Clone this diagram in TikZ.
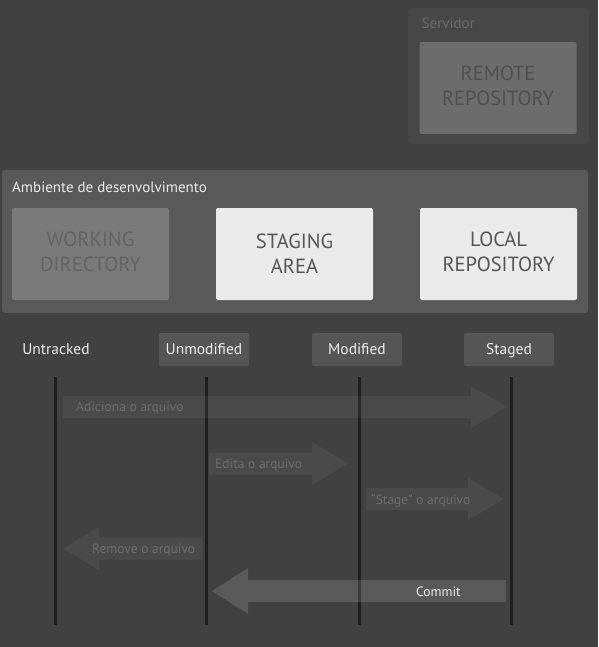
\documentclass[tikz,border=0pt]{standalone}
\usepackage{fontspec}
\setmainfont{PT Sans}
\usetikzlibrary{calc}
\definecolor{fundo}{HTML}{414141}
\definecolor{servfill}{HTML}{474747}
\definecolor{servtexto}{HTML}{6B6B6B}
\definecolor{remfill}{HTML}{6C6C6C}
\definecolor{remtexto}{HTML}{4F4F4F}
\definecolor{ambfill}{HTML}{595959}
\definecolor{ambtexto}{HTML}{ECECEC}
\definecolor{wdfill}{HTML}{7A7A7A}
\definecolor{wdtexto}{HTML}{636363}
\definecolor{clarofill}{HTML}{EBEBEB}
\definecolor{clarotexto}{HTML}{555555}
\definecolor{estfill}{HTML}{555555}
\definecolor{esttexto}{HTML}{EEEEEE}
\definecolor{linha}{HTML}{1E1E1E}
\definecolor{rottexto}{HTML}{6C6C6C}
% seta larga: [estilo]{cauda}{ponta}{meia altura da cabeca}
\newcommand{\seta}[4][]{%
  \fill[setafill,#1] let \p1=(#2), \p2=(#3), \p3=($(#3)!36pt!(#2)$) in
    (\x1,\y1+11pt) -- (\x3,\y1+11pt) -- (\x3,\y1+#4pt) -- (\x2,\y2)
    -- (\x3,\y1-#4pt) -- (\x3,\y1-11pt) -- (\x1,\y1-11pt) -- cycle;}
\tikzset{
  caixa/.style={rounded corners=2pt, minimum width=157pt, minimum height=92pt,
    inner sep=0pt, align=center, font=\fontsize{20.5}{25}\selectfont},
  alta/.style={text depth=5pt},
  estado/.style={rounded corners=2pt, minimum width=90pt, minimum height=33pt,
    inner sep=0pt, text height=11.6pt, text depth=2pt, text=esttexto,
    font=\fontsize{15.5}{18}\selectfont},
  titulo/.style={anchor=base west, inner sep=0pt, font=\fontsize{15}{18}\selectfont},
  rotulo/.style={anchor=base west, inner sep=0pt, text=rottexto,
    font=\fontsize{13.5}{16}\selectfont},
  vida/.style={draw=linha, line width=3pt},
  setafill/.style={fill=white, fill opacity=0.05},
}
\begin{document}
\begin{tikzpicture}[x=1pt, y=-1pt]
  \fill[fundo] (0,0) rectangle (598,647);
  \useasboundingbox (0,0) rectangle (598,647);
  % servidor
  \fill[servfill, rounded corners=4pt] (408,8) rectangle (589,144);
  \node[titulo, text=servtexto] (servidor) at (421.5,28.5) {Servidor};
  \node[caixa, alta, fill=remfill, text=remtexto] (remote) at (498,88) {REMOTE\\REPOSITORY};
  % ambiente de desenvolvimento
  \fill[ambfill, rounded corners=3pt] (2,170) rectangle (588,313);
  \node[titulo, text=ambtexto] (ambiente) at (12,192) {Ambiente de desenvolvimento};
  \node[caixa, alta, fill=wdfill, text=wdtexto] (working) at (90.5,254) {WORKING\\DIRECTORY};
  \node[caixa, fill=clarofill, text=clarotexto] (staging) at (294.5,254) {STAGING\\AREA};
  \node[caixa, alta, fill=clarofill, text=clarotexto] (local) at (498.5,254) {LOCAL\\REPOSITORY};
  % estados
  \node[estado] (untracked) at (56,349.5) {Untracked};
  \node[estado, fill=estfill] (unmodified) at (204,349.5) {Unmodified};
  \node[estado, fill=estfill] (modified) at (357,349.5) {Modified};
  \node[estado, fill=estfill] (staged) at (509,349.5) {Staged};
  \foreach \n/\x in {untracked/55.5, unmodified/206.5, modified/359, staged/511.5}
    \draw[vida] (\x,377) coordinate (\n-topo) -- (\x,625) coordinate (\n-base);
  % setas
  \coordinate (adiciona-c) at (63,407);   \coordinate (adiciona-p) at (507,407);
  \coordinate (edita-c) at (209,463.5);   \coordinate (edita-p) at (348,463.5);
  \coordinate (stage-c) at (366,499);     \coordinate (stage-p) at (504,499);
  \coordinate (remove-c) at (202,548.5);  \coordinate (remove-p) at (63,548.5);
  \coordinate (commit-c) at (506,591);    \coordinate (commit-p) at (212,591);
  \seta{adiciona-c}{adiciona-p}{21}
  \seta{edita-c}{edita-p}{21.5}
  \seta{stage-c}{stage-p}{21}
  \seta{remove-c}{remove-p}{21.5}
  \seta[fill opacity=0.13]{commit-c}{commit-p}{23}
  \node[rotulo] (adiciona) at (76,411) {Adiciona o arquivo};
  \node[rotulo] (edita) at (215,468) {Edita o arquivo};
  \node[rotulo] (stage) at (371,504) {“Stage” o arquivo};
  \node[rotulo] (remove) at (92,553) {Remove o arquivo};
  \node[rotulo, text=esttexto] (commit) at (416,596) {Commit};
\end{tikzpicture}
\end{document}
